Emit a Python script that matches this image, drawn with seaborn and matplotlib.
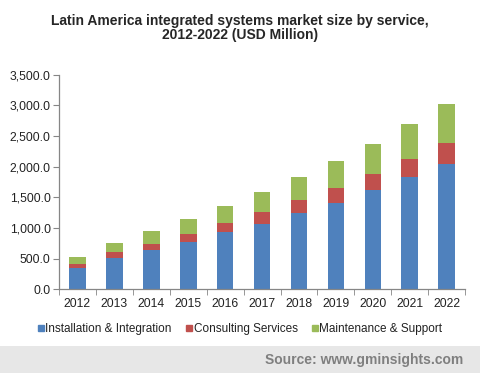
import matplotlib
matplotlib.use("Agg")
import matplotlib.pyplot as plt
import seaborn as sns
import pandas as pd
import numpy as np
from matplotlib.ticker import FuncFormatter, FixedLocator
from matplotlib.patches import Rectangle
from matplotlib.lines import Line2D

years = ["2012", "2013", "2014", "2015", "2016", "2017", "2018", "2019", "2020", "2021", "2022"]
installation = [352, 515, 646, 777, 930, 1070, 1245, 1413, 1615, 1838, 2050]
consulting = [66, 93, 98, 125, 152, 191, 212, 239, 267, 288, 338]
maintenance = [109, 147, 207, 245, 277, 326, 375, 441, 490, 572, 637]
series_names = ["Installation & Integration", "Consulting Services", "Maintenance & Support"]
colors = ["#4F81BD", "#C0504D", "#9BBB59"]

sns.set_style("white")
plt.rcParams["font.family"] = ["Liberation Sans", "DejaVu Sans"]

df = pd.DataFrame({"year": years, "inst": installation, "cons": consulting, "maint": maintenance})
df["c1"] = df["inst"]
df["c2"] = df["inst"] + df["cons"]
df["c3"] = df["c2"] + df["maint"]

fig = plt.figure(figsize=(4.8, 3.73), dpi=100)
ax = fig.add_axes([0.123, 0.2244, 0.846, 0.5753])

for col, c in zip(["c3", "c2", "c1"], colors[::-1]):
    sns.barplot(data=df, x="year", y=col, color=c, width=0.45, ax=ax,
                saturation=1, edgecolor="none", linewidth=0)

ax.set_ylim(0, 3500)
ax.set_xlim(-0.5, len(years) - 0.5)
ax.set_yticks(np.arange(0, 3501, 500))
ax.yaxis.set_major_formatter(FuncFormatter(lambda v, p: f"{v:,.1f}"))
ax.set_xlabel("")
ax.set_ylabel("")

for s in ["top", "right"]:
    ax.spines[s].set_visible(False)
for s in ["left", "bottom"]:
    ax.spines[s].set_color("#868686")
    ax.spines[s].set_linewidth(0.9)

ax.tick_params(axis="y", which="major", length=4, color="#868686", labelsize=8.7,
               labelcolor="#222222", pad=2, left=True)
ax.tick_params(axis="x", which="major", length=0, labelsize=8.7, labelcolor="#222222", pad=6)
ax.xaxis.set_minor_locator(FixedLocator(np.arange(-0.5, len(years), 1.0)))
ax.tick_params(axis="x", which="minor", length=4, color="#868686", bottom=True)

fig.text(0.5, 0.963, "Latin America integrated systems market size by service,\n2012-2022 (USD Million)",
         ha="center", va="top", fontsize=10, fontweight="bold", color="#262626", linespacing=1.05)

handles = [Line2D([0], [0], marker="s", linestyle="none", markersize=4.5,
                  markerfacecolor=c, markeredgecolor=c) for c in colors]
fig.legend(handles, series_names, loc="center", bbox_to_anchor=(0.5, 0.117), ncol=3,
           frameon=False, fontsize=8.5, handlelength=0.5, handletextpad=0.15,
           columnspacing=1.2, labelcolor="#222222")

fig.patches.append(Rectangle((0, 0), 1, 0.072, transform=fig.transFigure,
                             facecolor="#e7e7e7", edgecolor="none", zorder=0))
fig.text(0.965, 0.034, "Source: www.gminsights.com", ha="right", va="center",
         fontsize=10, fontweight="bold", color="#7f7f7f")

fig.savefig("out.png", dpi=100)
